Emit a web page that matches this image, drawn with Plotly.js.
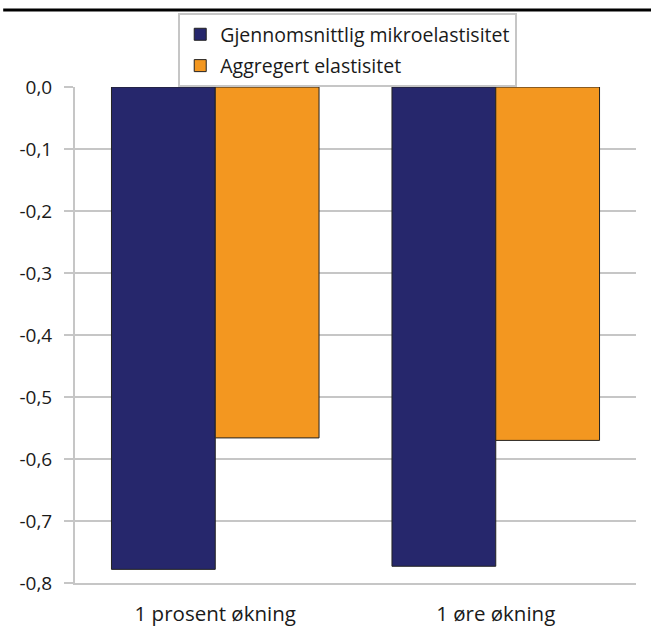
<!DOCTYPE html>
<html>
<head>
<meta charset="utf-8">
<script src="https://cdn.plot.ly/plotly-3.0.1.min.js"></script>
<style>
  html, body { margin: 0; padding: 0; background: #ffffff; }
  #chart { width: 651px; height: 637px; }
</style>
</head>
<body>
<div id="chart"></div>
<script>
// Elasticities by type of price increase
const categories = ['1 prosent økning', '1 øre økning'];
const microElasticity = [-0.778, -0.773];
const aggregateElasticity = [-0.566, -0.570];
const seriesNames = ['Gjennomsnittlig mikroelastisitet', 'Aggregert elastisitet'];
const yTickValues = [0, -0.1, -0.2, -0.3, -0.4, -0.5, -0.6, -0.7, -0.8];
const yTickLabels = ['0,0', '-0,1', '-0,2', '-0,3', '-0,4', '-0,5', '-0,6', '-0,7', '-0,8'];

const FONT = '"Open Sans", "Noto Sans", sans-serif';
const TEXT = '#1a1a1a';
const GRID = '#c6c6c6';

const traces = [
  {
    type: 'bar', name: seriesNames[0], legendgroup: 'a',
    x: categories, y: microElasticity,
    marker: { color: '#26276c', line: { color: '#222222', width: 1 } }
  },
  {
    type: 'bar', name: seriesNames[1], legendgroup: 'b',
    x: categories, y: aggregateElasticity,
    marker: { color: '#f39720', line: { color: '#222222', width: 1 } }
  }
];

const layout = {
  width: 651, height: 637,
  margin: { l: 75, r: 15, t: 87, b: 54 },
  paper_bgcolor: '#ffffff', plot_bgcolor: '#ffffff',
  font: { family: FONT, size: 19, color: TEXT },
  barmode: 'group', bargap: 0.26, bargroupgap: 0,
  showlegend: true,
  legend: {
    x: 0.184, xanchor: 'left', y: 1.149, yanchor: 'top',
    bgcolor: '#ffffff', bordercolor: '#c6c6c6', borderwidth: 2,
    font: { family: FONT, size: 19.5, color: TEXT },
    itemwidth: 30,
    tracegroupgap: 3, traceorder: 'grouped'
  },
  xaxis: {
    type: 'category', categoryarray: categories,
    showgrid: false, zeroline: false,
    showline: true, linecolor: GRID, linewidth: 2,
    ticks: '', ticklabelstandoff: 11,
    tickfont: { family: FONT, size: 20.5, color: TEXT }
  },
  // boundary ticks along the zero line
  xaxis2: {
    overlaying: 'x', side: 'top', anchor: 'y',
    range: [0, 2], tick0: 0, dtick: 1,
    showticklabels: false, showgrid: false, zeroline: false,
    showline: true, linecolor: GRID, linewidth: 2,
    ticks: 'inside', ticklen: 8, tickwidth: 2, tickcolor: GRID
  },
  yaxis: {
    range: [-0.8, 0],
    tickvals: yTickValues, ticktext: yTickLabels,
    showgrid: true, gridcolor: GRID, gridwidth: 2,
    zeroline: false,
    showline: true, linecolor: GRID, linewidth: 2,
    ticks: 'outside', ticklen: 9, tickwidth: 2, tickcolor: GRID,
    ticklabelstandoff: 8,
    tickfont: { family: FONT, size: 19, color: TEXT }
  },
  shapes: [
    {
      type: 'line', xref: 'paper', yref: 'paper',
      x0: -0.128, x1: 1.03, y0: 1.155, y1: 1.155,
      line: { color: '#000000', width: 3 }
    }
  ]
};

Plotly.newPlot('chart', traces, layout, { staticPlot: true, displayModeBar: false });
</script>
</body>
</html>
